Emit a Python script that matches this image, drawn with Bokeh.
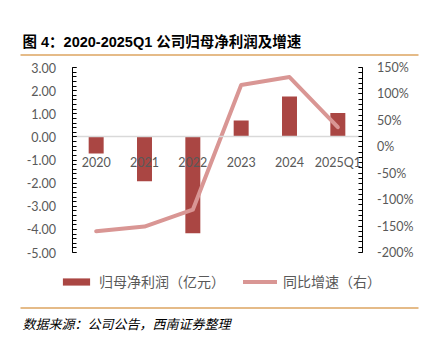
from bokeh.plotting import figure
from bokeh.models import (ColumnDataSource, Range1d, FactorRange, LinearAxis, CategoricalAxis,
                          SingleIntervalTicker, PrintfTickFormatter, Label, Legend, LegendItem,
                          BoxAnnotation)
from bokeh.embed import file_html
from bokeh.resources import INLINE

categories = ["2020", "2021", "2022", "2023", "2024", "2025Q1"]
net_profit = [-0.72, -1.92, -4.17, 0.71, 1.75, 1.03]
yoy_growth = [-160, -151, -119, 117, 132, 37]

title_text = "图 4：2020-2025Q1 公司归母净利润及增速"
source_text = "数据来源：公司公告，西南证券整理"
bar_name = "归母净利润（亿元）"
line_name = "同比增速（右）"

NUM_FONT = "Lato"
CJK_FONT = "Liberation Sans, Noto Sans CJK SC"
GREY = "#595959"
BAR_COLOR = "#AA4643"
LINE_COLOR = "#D99694"
ORANGE = "#DDA560"

W, H = 433, 337
FL, FR, FT, FB = 71, 361, 67, 252  # plotting area edges in canvas px
L_MIN, L_MAX = -5, 3
R_MIN, R_MAX = -200, 150

# the frame covers the whole canvas; axes are pinned at the plotting-area edges
ly_per_px = (L_MAX - L_MIN) / (FB - FT)
ry_per_px = (R_MAX - R_MIN) / (FB - FT)
y_range = Range1d(L_MIN - (H - FB) * ly_per_px, L_MAX + FT * ly_per_px)
pct_range = Range1d(R_MIN - (H - FB) * ry_per_px, R_MAX + FT * ry_per_px)
n = len(categories)
cat_px = (FR - FL) / n
x_range = FactorRange(factors=categories, range_padding=(W - (FR - FL)) / 2 / cat_px,
                      range_padding_units="absolute")

src = ColumnDataSource(dict(cat=categories, val=net_profit, pct=yoy_growth))

p = figure(width=W, height=H, x_range=x_range, y_range=y_range,
           output_backend="svg", toolbar_location=None,
           x_axis_location=None, y_axis_location=None,
           min_border=0, min_border_left=0, min_border_right=0,
           min_border_top=0, min_border_bottom=0)
p.outline_line_color = None
p.grid.visible = False
p.background_fill_color = "white"
p.border_fill_color = "white"
p.extra_y_ranges = {"pct": pct_range}

laxis = LinearAxis(fixed_location=0, bounds=(L_MIN, L_MAX))
raxis = LinearAxis(y_range_name="pct", fixed_location=n, bounds=(R_MIN, R_MAX))
p.add_layout(laxis, "left")
p.add_layout(raxis, "right")

for ax, interval, fmt in [(laxis, 1, "%.2f"), (raxis, 50, "%d%%")]:
    ax.ticker = SingleIntervalTicker(interval=interval, num_minor_ticks=5)
    ax.formatter = PrintfTickFormatter(format=fmt)
    ax.axis_line_color = "black"
    ax.major_tick_line_color = "black"
    ax.minor_tick_line_color = "black"
    ax.major_tick_in = 4
    ax.major_tick_out = 0
    ax.minor_tick_in = 4
    ax.minor_tick_out = 0
    ax.major_label_text_font = NUM_FONT
    ax.major_label_text_font_size = "12.5px"
    ax.major_label_text_color = GREY
laxis.major_label_standoff = 16
raxis.major_label_standoff = 15

bars = p.vbar(x="cat", top="val", bottom=0, width=0.31, source=src,
              fill_color=BAR_COLOR, line_color=None)
line = p.line(x="cat", y="pct", source=src, y_range_name="pct", line_color=LINE_COLOR,
              line_width=4, line_cap="round", line_join="round")

xaxis = CategoricalAxis(fixed_location=0, bounds=(0, n))
xaxis.axis_line_color = "#D9D9D9"
xaxis.axis_line_width = 1.5
xaxis.major_tick_line_color = None
xaxis.minor_tick_line_color = None
xaxis.major_label_standoff = 12
xaxis.major_label_text_font = NUM_FONT
xaxis.major_label_text_font_size = "12.5px"
xaxis.major_label_text_color = GREY
p.add_layout(xaxis, "below")

def sx(cx):
    return cx

def sy(cy):
    return H - cy

p.add_layout(Label(x=sx(22), y=sy(41), x_units="screen", y_units="screen", text=title_text,
                   text_font=CJK_FONT, text_font_size="14.5px", text_font_style="bold",
                   text_color="black", text_baseline="middle", text_align="left"))
p.add_layout(Label(x=sx(22), y=sy(324), x_units="screen", y_units="screen", text=source_text,
                   text_font=CJK_FONT, text_font_size="13px", text_font_style="italic",
                   text_color="black", text_baseline="middle", text_align="left"))

for cy in (54.5, 307.5):
    p.add_layout(BoxAnnotation(left=sx(20), right=sx(418), top=sy(cy - 0.75), bottom=sy(cy + 0.75),
                               left_units="screen", right_units="screen", top_units="screen",
                               bottom_units="screen", fill_color=ORANGE, fill_alpha=1,
                               line_color=None))

legend = Legend(items=[LegendItem(label=bar_name, renderers=[bars]),
                       LegendItem(label=line_name, renderers=[line])],
                orientation="horizontal", location=(sx(59), sy(291)),
                padding=0, margin=0, spacing=18, glyph_width=34, glyph_height=9,
                label_standoff=6, label_text_font=CJK_FONT, label_text_font_size="14px",
                label_text_color=GREY, border_line_color=None, background_fill_alpha=0)
p.add_layout(legend)

open("out.html", "w").write(file_html(p, INLINE))
